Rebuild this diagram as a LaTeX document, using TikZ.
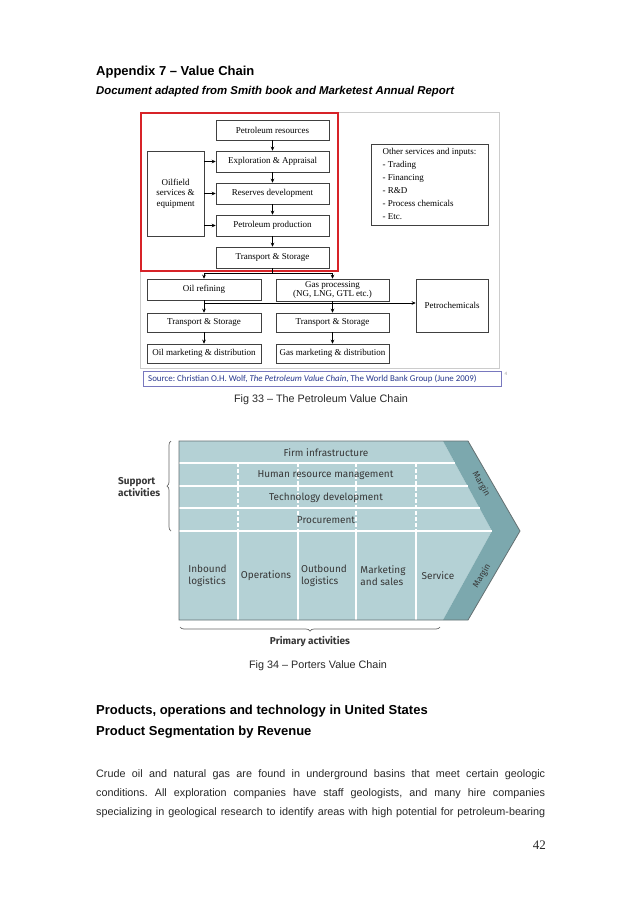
\documentclass[tikz,border=0pt]{standalone}
\usepackage{fontspec}
\setmainfont{Liberation Sans}
\newfontfamily\serifx{Liberation Serif}
\newfontfamily\calib{Carlito}
\newfontfamily\firaf{Fira Sans}
\usetikzlibrary{arrows.meta,decorations.pathreplacing}
\definecolor{pl}{RGB}{180,209,213}
\definecolor{pd}{RGB}{124,168,174}
\definecolor{pborder}{RGB}{100,112,114}
\definecolor{ptext}{RGB}{55,55,55}
\definecolor{redbox}{RGB}{215,35,40}
\definecolor{navy}{RGB}{40,55,140}
\definecolor{srcframe}{RGB}{120,120,190}
\definecolor{bodytext}{RGB}{40,40,40}
\frenchspacing
\begin{document}
\begin{tikzpicture}[x=1pt,y=-1pt,
  box/.style={draw=black!75, line width=0.6pt, inner sep=0pt, align=center,
    font=\serifx\fontsize{9}{10.5}\selectfont},
  wbox/.style={box, minimum width=113pt},
  arr/.style={-{Stealth[length=4pt,width=3.6pt]}, line width=0.6pt},
  ptxt/.style={text=ptext, inner sep=0pt, align=left, font=\firaf\fontsize{10}{12}\selectfont},
  mtxt/.style={text=ptext, inner sep=0pt, font=\firaf\fontsize{8.6}{9}\selectfont},
  wline/.style={white, line width=1.1pt},
  brc/.style={decorate, decoration={brace, amplitude=4pt}, draw=black!60, line width=0.7pt},
  body/.style={anchor=west, inner sep=0pt, text=bodytext, font=\fontsize{10.8}{13}\selectfont},
  head/.style={anchor=west, inner sep=0pt, text=black, font=\bfseries\fontsize{13}{15}\selectfont},
  figcap/.style={inner sep=0pt, text=bodytext, font=\fontsize{10.8}{13}\selectfont}
]
\useasboundingbox (0,0) rectangle (638,903);
\fill[white] (0,0) rectangle (638,903);

% ---------- headings ----------
\node[head] (h1) at (96,72) {Appendix 7 – Value Chain};
\node[head, font=\bfseries\itshape\fontsize{11.4}{13}\selectfont] (h2) at (96,92) {Document adapted from Smith book and Marketest Annual Report};

% ---------- petroleum value chain ----------
\draw[black!20, line width=0.6pt] (140,112) rectangle (499,368);

\node[wbox, minimum height=20pt] (pr) at (272.5,130) {Petroleum resources};
\node[wbox, minimum height=21pt] (ea) at (272.5,161.5) {Exploration \& Appraisal};
\node[wbox, minimum height=21pt] (rd) at (272.5,193.5) {Reserves development};
\node[wbox, minimum height=21pt] (pp) at (272.5,225.5) {Petroleum production};
\node[wbox, minimum height=21pt] (ts) at (272.5,257.5) {Transport \& Storage};
\node[box, minimum width=57pt, minimum height=85pt] (of) at (175.5,193.5) {Oilfield\\services \&\\equipment};
\node[box, minimum width=117pt, minimum height=81pt, font=\serifx\fontsize{9}{13}\selectfont] (os) at (429.5,184.5)
  {\begin{tabular}{@{}l@{}}\multicolumn{1}{@{}c@{}}{Other services and inputs:}\\- Trading\\- Financing\\- R\&D\\- Process chemicals\\- Etc.\end{tabular}};

\draw[arr] (pr.south) -- (ea.north);
\draw[arr] (ea.south) -- (rd.north);
\draw[arr] (rd.south) -- (pp.north);
\draw[arr] (pp.south) -- (ts.north);
\draw[arr] (of.east |- ea) -- (ea.west);
\draw[arr] (of.east |- rd) -- (rd.west);
\draw[arr] (of.east |- pp) -- (pp.west);

\draw[redbox, line width=1.7pt] (141,113) rectangle (338,271);

\node[box, minimum width=114pt, minimum height=21pt] (or) at (204,289.5) {Oil refining};
\node[box, minimum width=113pt, minimum height=22pt, font=\serifx\fontsize{9}{9.6}\selectfont] (gp) at (332.5,290) {Gas processing\\(NG, LNG, GTL etc.)};
\node[box, minimum width=72pt, minimum height=53pt] (pc) at (452,305.5) {Petrochemicals};
\node[box, minimum width=114pt, minimum height=19pt] (tso) at (204,322.5) {Transport \& Storage};
\node[box, minimum width=113pt, minimum height=19pt] (tsg) at (332.5,322.5) {Transport \& Storage};
\node[box, minimum width=114pt, minimum height=19pt] (om) at (204,353.5) {Oil marketing \& distribution};
\node[box, minimum width=113pt, minimum height=19pt] (gm) at (332.5,353.5) {Gas marketing \& distribution};

\coordinate (j1) at (272.5,273);
\draw[line width=0.6pt] (ts.south) -- (j1);
\draw[arr] (j1) -| (or.north);
\draw[arr] (j1) -| (gp.north);
\coordinate (j2) at (204,303);
\draw[line width=0.6pt] (or.south) -- (j2);
\draw[arr] (j2) -- (pc.west |- j2);
\draw[arr] (j2) -- (tso.north);
\draw[arr] (gp.south) -- (tsg.north);
\draw[arr] (tso.south) -- (om.north);
\draw[arr] (tsg.south) -- (gm.north);

% source box
\node[draw=srcframe, line width=0.5pt, minimum width=358pt, minimum height=15pt, inner sep=0pt] (src) at (322,378.5) {};
\node[anchor=west, inner sep=0pt, text=navy, font=\calib\fontsize{8.9}{10}\selectfont] (srct) at (148,378.5)
  {Source: Christian O.H. Wolf, \textit{The Petroleum Value Chain}, The World Bank Group (June 2009)};
\node[inner sep=0pt, text=black!40, font=\calib\fontsize{5}{6}\selectfont] (sup) at (506,374) {4};

\node[figcap] (c1) at (321,400) {Fig 33 – The Petroleum Value Chain};

% ---------- Porter value chain ----------
\fill[pl] (179,441) -- (443,441) -- (492,531) -- (443,620) -- (179,620) -- cycle;
\fill[pd] (443,441) -- (468,441) -- (520,531) -- (468,620) -- (443,620) -- (492,531) -- cycle;
\draw[wline] (179,463) -- (455,463);
\draw[wline] (179,486) -- (467.5,486);
\draw[wline] (179,508) -- (479.5,508);
\draw[wline] (179,531) -- (492,531);
\foreach \xx in {238,298,356,416}{
  \draw[wline, dash pattern=on 4pt off 2pt] (\xx,463) -- (\xx,531);
  \draw[wline] (\xx,531) -- (\xx,620);
}
\draw[pborder, line width=0.8pt] (179,441) -- (468,441) -- (520,531) -- (468,620) -- (179,620) -- cycle;

\node[ptxt] (fi) at (326,453) {Firm infrastructure};
\node[ptxt] (hr) at (325.5,475.5) {Human resource management};
\node[ptxt] (td) at (326,497.5) {Technology development};
\node[ptxt] (pcu) at (326,520) {Procurement};
\node[ptxt] (il) at (207.5,576) {Inbound\\logistics};
\node[ptxt] (ops) at (266,576) {Operations};
\node[ptxt] (ol) at (324,576) {Outbound\\logistics};
\node[ptxt] (ms) at (383,576) {Marketing\\and sales};
\node[ptxt] (sv) at (438,576) {Service};
\node[mtxt, rotate=-60] (m1) at (481,484) {Margin};
\node[mtxt, rotate=60] (m2) at (482,576) {Margin};

\draw[brc] (171,531) -- (171,441);
\draw[brc] (440,627) -- (180,627);
\node[ptxt, font=\firaf\bfseries\fontsize{10}{12}\selectfont, anchor=west] (sa) at (118,487) {Support\\activities};
\node[ptxt, font=\firaf\bfseries\fontsize{10}{12}\selectfont] (pa) at (310,642) {Primary activities};

\node[figcap] (c2) at (318,666) {Fig 34 – Porters Value Chain};

% ---------- bottom text ----------
\node[head] (h3) at (96,711) {Products, operations and technology in United States};
\node[head] (h4) at (96,732) {Product Segmentation by Revenue};
\node[body] (b1) at (96,775) {\makebox[449pt][s]{Crude oil and natural gas are found in underground basins that meet certain geologic}};
\node[body] (b2) at (96,794) {\makebox[449pt][s]{conditions. All exploration companies have staff geologists, and many hire companies}};
\node[body] (b3) at (96,812.5) {\makebox[449pt][s]{specializing in geological research to identify areas with high potential for petroleum-bearing}};
\node[inner sep=0pt, anchor=east, text=bodytext, font=\serifx\fontsize{13}{15}\selectfont] (pg) at (546,845) {42};
\end{tikzpicture}
\end{document}
